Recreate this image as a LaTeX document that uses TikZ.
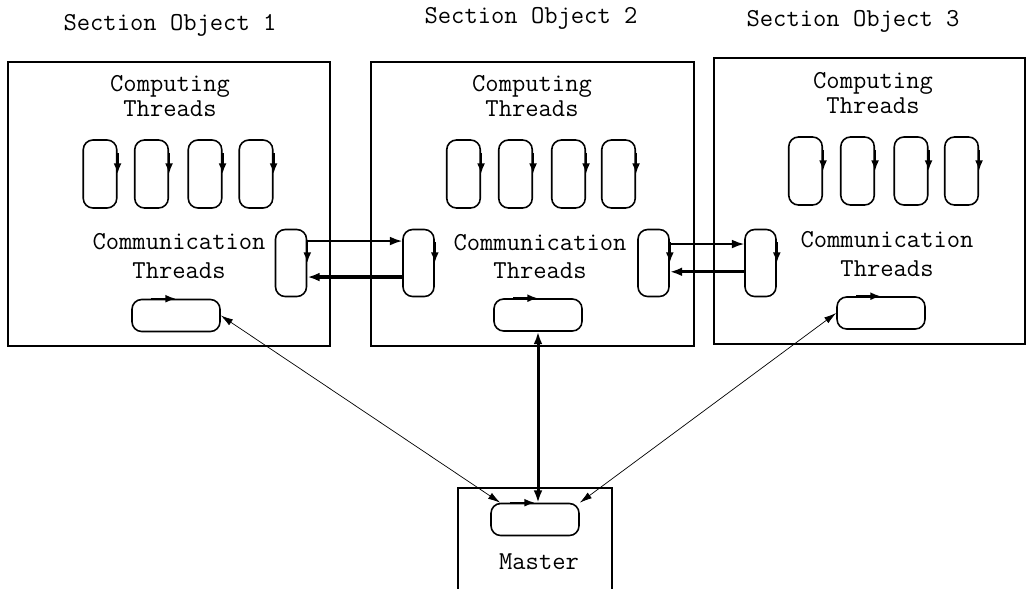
\documentclass[tikz,border=0pt]{standalone}
\usepackage{tikz}
\usetikzlibrary{arrows.meta}

\begin{document}
\begin{tikzpicture}[
    x=0.02cm, y=-0.02cm,
    every node/.style={font=\ttfamily\fontsize{14.7}{14.2}\selectfont, inner sep=0pt},
    section/.style={draw, line width=1.1pt},
    caption/.style={align=center},
    comm text/.style={align=center, font=\ttfamily\fontsize{14.7}{16}\selectfont},
    vthread/.style={draw, line width=0.9pt, rounded corners=5.5pt, minimum width=0.67cm, minimum height=1.36cm},
    cthread/.style={vthread, minimum width=0.62cm, minimum height=1.34cm},
    hthread/.style={draw, line width=0.9pt, rounded corners=5.5pt, minimum width=1.76cm, minimum height=0.64cm},
    turn/.style={-{Latex[length=6pt,width=4.5pt]}, line width=1.2pt},
    thin flow/.style={-{Latex[length=7pt,width=5pt]}, line width=1pt},
    thick flow/.style={-{Latex[length=7pt,width=5pt]}, line width=1.8pt},
    link/.style={{Latex[length=7pt,width=4pt]}-{Latex[length=7pt,width=4pt]}, line width=0.4pt},
    spine/.style={{Latex[length=7pt,width=5pt]}-{Latex[length=7pt,width=5pt]}, line width=1.7pt}
]
\useasboundingbox (0,0) rectangle (1026,588);
\clip (0,0) rectangle (1026,588);

% section objects and master
\node[section, minimum width=6.44cm, minimum height=5.68cm] (sec1) at (169,204) {};
\node[section, minimum width=6.46cm, minimum height=5.68cm] (sec2) at (532.5,204) {};
\node[section, minimum width=6.22cm, minimum height=5.72cm] (sec3) at (869.5,201) {};
\node[section, minimum width=3.08cm, minimum height=2.64cm] (mbox) at (535,554) {};

\node (title1) at (170,25) {Section Object 1};
\node (title2) at (531,18) {Section Object 2};
\node (title3) at (853,21) {Section Object 3};

\node[caption] (comp1) at (170,96) {Computing\\Threads};
\node[caption] (comp2) at (532,96.5) {Computing\\Threads};
\node[caption] (comp3) at (873,93) {Computing\\Threads};

\node[comm text] (comm1) at (179,256) {Communication\\Threads};
\node[comm text] (comm2) at (540,256.5) {Communication\\Threads};
\node[comm text] (comm3) at (887,254) {Communication\\Threads};

\node (mtext) at (539,562) {Master};

% computing threads
\foreach \x [count=\i] in {100,151.5,205,256}
    \node[vthread] (t1\i) at (\x,174) {};
\foreach \x [count=\i] in {463.5,515.5,568.5,618.5}
    \node[vthread] (t2\i) at (\x,174) {};
\foreach \x [count=\i] in {805.5,857.5,911,961.5}
    \node[vthread] (t3\i) at (\x,171) {};

% communication threads
\node[cthread] (cA) at (291,263) {};
\node[cthread] (cB) at (418.5,263) {};
\node[cthread] (cC) at (653.5,263) {};
\node[cthread] (cD) at (760.5,263) {};

\node[hthread] (h1) at (176,315.5) {};
\node[hthread] (h2) at (538,315) {};
\node[hthread] (h3) at (881,313) {};
\node[hthread] (m) at (535,519.5) {};

% direction of each loop
\foreach \t in {t11,t12,t13,t14,t21,t22,t23,t24,t31,t32,t33,t34,cA,cB,cC,cD}
    \draw[turn] ([yshift=12pt]\t.east) -- (\t.east);
\foreach \t in {h1,h2,h3,m}
    \draw[turn] ([xshift=-14pt]\t.north) -- (\t.north);

% exchange between neighbours
\draw[thin flow] ([yshift=12.5pt]cA.east) -- ([yshift=12.5pt]cB.west);
\draw[thick flow] ([yshift=-8pt]cB.west) -- ([yshift=-8pt]cA.east);
\draw[thin flow] ([yshift=10.8pt]cC.east) -- ([yshift=10.8pt]cD.west);
\draw[thick flow] ([yshift=-5pt]cD.west) -- ([yshift=-5pt]cC.east);

% links to the master
\draw[link] (h1.east) -- ([xshift=5.7pt]m.north west);
\draw[link] (h3.west) -- (m.north east);
\draw[spine] (h2.south) -- (h2.south |- m.north);

\end{tikzpicture}
\end{document}
